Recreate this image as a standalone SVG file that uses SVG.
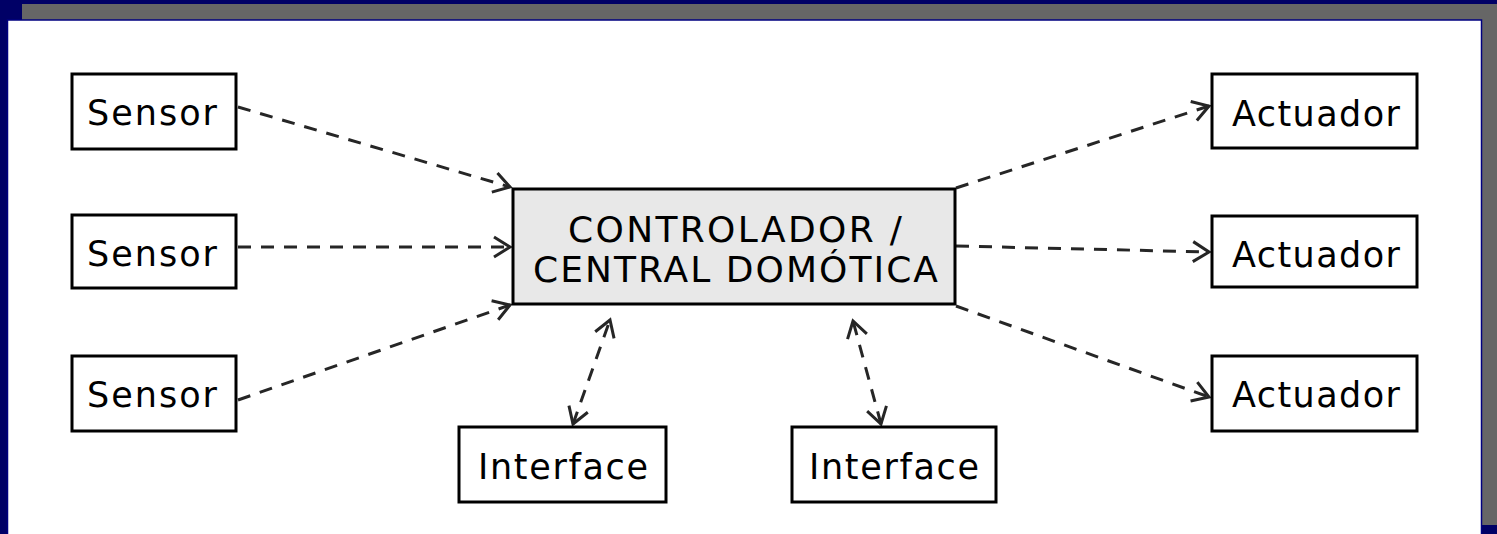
<svg xmlns="http://www.w3.org/2000/svg" width="1497" height="534" viewBox="0 0 1497 534">
<style>
.box{fill:#ffffff;stroke:#000000;stroke-width:3}
.central{fill:#e8e8e8;stroke:#000000;stroke-width:3}
.lbl{font-family:"DejaVu Sans","Liberation Sans",sans-serif;font-size:35px;fill:#000000}
.cl{font-family:"DejaVu Sans","Liberation Sans",sans-serif;font-size:36px;fill:#000000}
.conn{fill:none;stroke:#262626;stroke-width:3;stroke-dasharray:13 10}
</style>
<defs>
<marker id="ah" markerUnits="userSpaceOnUse" markerWidth="30" markerHeight="30" viewBox="-20 -15 25 30" refX="0" refY="0" orient="auto-start-reverse">
<path d="M-16,-10 L0,0 L-16,10" fill="none" stroke="#262626" stroke-width="3"/>
</marker>
</defs>
<g id="frame">
<rect x="0" y="0" width="1497" height="534" fill="#000066"/>
<rect x="22" y="4" width="1475" height="521" fill="#666666"/>
<rect x="7.5" y="20" width="1474" height="520" fill="#ffffff" stroke="#000080" stroke-width="1.5"/>
</g>
<g id="connectors">
<line class="conn" x1="238" y1="107" x2="510" y2="187" marker-end="url(#ah)"/>
<line class="conn" x1="238" y1="247" x2="510" y2="247" marker-end="url(#ah)"/>
<line class="conn" x1="238" y1="400" x2="510" y2="305" marker-end="url(#ah)"/>
<line class="conn" x1="956" y1="188" x2="1209" y2="106" marker-end="url(#ah)"/>
<line class="conn" x1="956" y1="246" x2="1209" y2="252" marker-end="url(#ah)"/>
<line class="conn" x1="956" y1="306" x2="1209" y2="397" marker-end="url(#ah)"/>
<line class="conn" x1="573" y1="424" x2="610" y2="320" marker-start="url(#ah)" marker-end="url(#ah)"/>
<line class="conn" x1="881" y1="424" x2="853" y2="321" marker-start="url(#ah)" marker-end="url(#ah)"/>
</g>
<g id="sensor1"><rect class="box" x="72" y="74" width="164" height="75"/><text class="lbl" x="87" y="125" textLength="130" lengthAdjust="spacing">Sensor</text></g>
<g id="sensor2"><rect class="box" x="72" y="215" width="164" height="73"/><text class="lbl" x="87" y="266" textLength="130" lengthAdjust="spacing">Sensor</text></g>
<g id="sensor3"><rect class="box" x="72" y="356" width="164" height="75"/><text class="lbl" x="87" y="407" textLength="130" lengthAdjust="spacing">Sensor</text></g>
<g id="central"><rect class="central" x="513" y="189" width="442" height="115"/>
<text class="cl" x="568" y="242" textLength="334" lengthAdjust="spacing">CONTROLADOR /</text>
<text class="cl" x="533" y="282" textLength="405" lengthAdjust="spacing">CENTRAL DOMÓTICA</text></g>
<g id="actuador1"><rect class="box" x="1212" y="74" width="205" height="74"/><text class="lbl" x="1232" y="126" textLength="168" lengthAdjust="spacing">Actuador</text></g>
<g id="actuador2"><rect class="box" x="1212" y="216" width="205" height="71"/><text class="lbl" x="1232" y="267" textLength="168" lengthAdjust="spacing">Actuador</text></g>
<g id="actuador3"><rect class="box" x="1212" y="356" width="205" height="75"/><text class="lbl" x="1232" y="407" textLength="168" lengthAdjust="spacing">Actuador</text></g>
<g id="interface1"><rect class="box" x="459" y="427" width="207" height="75"/><text class="lbl" x="478" y="479" textLength="170" lengthAdjust="spacing">Interface</text></g>
<g id="interface2"><rect class="box" x="792" y="427" width="204" height="75"/><text class="lbl" x="809" y="479" textLength="170" lengthAdjust="spacing">Interface</text></g>
</svg>
